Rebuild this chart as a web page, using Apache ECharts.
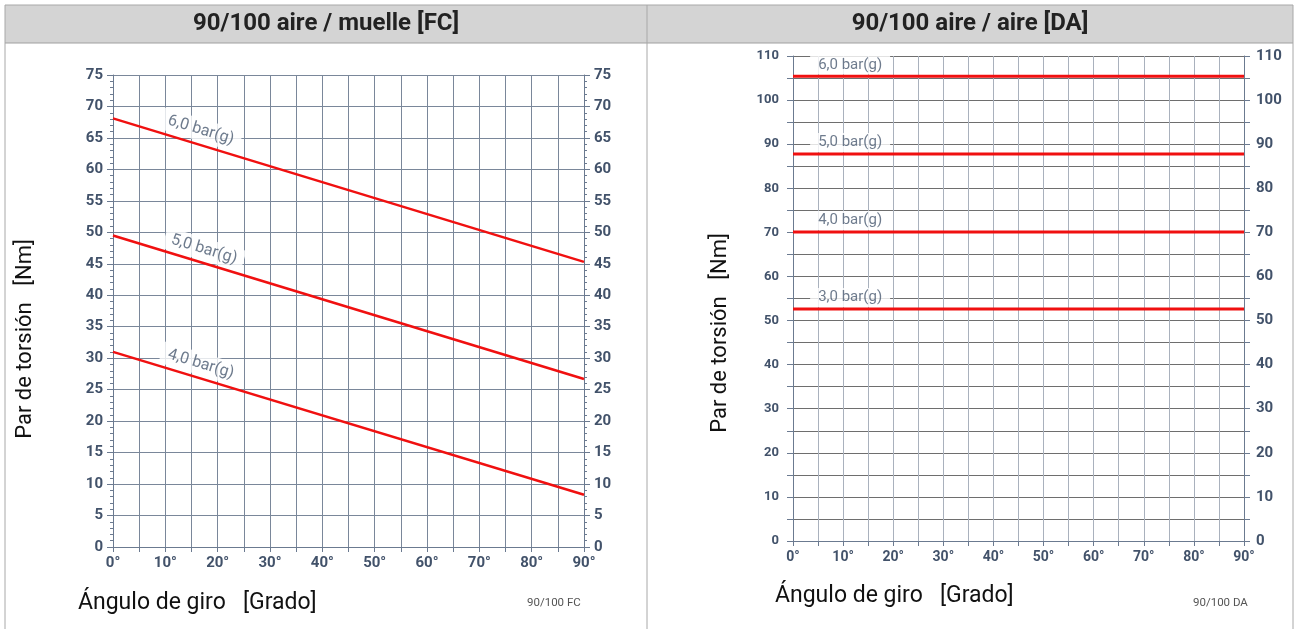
<!DOCTYPE html>
<html><head><meta charset="utf-8">
<script src="https://cdn.jsdelivr.net/npm/echarts@6/dist/echarts.min.js"></script>
<style>html,body{margin:0;padding:0;background:#fff}#c{width:1298px;height:629px}</style>
</head><body><div id="c"></div>
<script>
// ---- data ----
const angles = [0, 90];
const fcLabels = ['6,0 bar(g)', '5,0 bar(g)', '4,0 bar(g)'];
const fc6 = [68.1, 45.3];
const fc5 = [49.5, 26.7];
const fc4 = [31.0, 8.3];
const daLabels = ['6,0 bar(g)', '5,0 bar(g)', '4,0 bar(g)', '3,0 bar(g)'];
const da6 = [105.4, 105.4];
const da5 = [87.8, 87.8];
const da4 = [70.1, 70.1];
const da3 = [52.6, 52.6];
const titles = ['90/100 aire / muelle [FC]', '90/100 aire / aire [DA]'];
const xName = 'Ángulo de giro   [Grado]';
const yName = 'Par de torsión   [Nm]';
const refs = ['90/100 FC', '90/100 DA'];

// ---- styling ----
const FONT = 'Roboto';
const TICKC = '#42526a';
const RED = '#f01010';
const chart = echarts.init(document.getElementById('c'), null, {renderer: 'canvas'});

function pts(xs, ys) { return xs.map((x, i) => [x, ys[i]]); }
function lineSeries(xi, yi, data, w) {
  return {type: 'line', xAxisIndex: xi, yAxisIndex: yi, data: data, symbol: 'none',
    lineStyle: {color: RED, width: w}, silent: true, z: 5};
}
// label anchor positions (layout) derived from lines
const fcSeries = [fc6, fc5, fc4];
const fcLabelX = [16.8, 17.4, 16.8];
const fcLabelOff = [2.4, 2.2, 2.3];
const slopeDeg = -17;
const fcLabelData = fcSeries.map((s, i) => {
  const x = fcLabelX[i];
  const y = s[0] + (s[1] - s[0]) * x / 90 + fcLabelOff[i];
  return {value: [x, y], label: {formatter: fcLabels[i], rotate: slopeDeg}};
});
const daSeries = [da6, da5, da4, da3];
const daLabelData = daSeries.map((s, i) => ({value: [11.4, s[0] + 2.6], label: {formatter: daLabels[i]}}));

const xFmt = v => (v % 10 === 0 ? v + '°' : '');

function xAxis(gi, fs, splitColor) {
  return {type: 'value', gridIndex: gi, min: 0, max: 90, interval: 5,
    axisLine: {show: true, lineStyle: {color: '#6b7a90', width: 1}},
    axisTick: {show: true, length: 5, lineStyle: {color: '#6b7a90'}},
    axisLabel: {formatter: xFmt, color: TICKC, fontWeight: 'bold', fontSize: fs, fontFamily: FONT, margin: 9},
    splitLine: {show: true, lineStyle: {color: splitColor, width: 1}}};
}
function yAxis(gi, max, pos, fs, margin, everyTen, split, minor, splitColor) {
  return {type: 'value', gridIndex: gi, min: 0, max: max, interval: 5, position: pos,
    axisLine: {show: true, lineStyle: {color: '#6b7a90', width: 1}},
    axisTick: {show: true, length: 6, lineStyle: {color: '#6b7a90'}},
    minorTick: {show: minor, splitNumber: 5, length: 3, lineStyle: {color: '#6b7a90'}},
    axisLabel: {formatter: v => (everyTen && v % 10 !== 0 ? '' : String(v)), color: TICKC,
      fontWeight: 'bold', fontSize: fs, fontFamily: FONT, margin: margin},
    splitLine: {show: split, lineStyle: {color: splitColor, width: 1}}};
}

const labelStyleFC = {show: true, position: 'inside', color: '#4a5a70', fontSize: 16, fontFamily: FONT,
  backgroundColor: '#fff', padding: [3, 7]};
const labelStyleDA = {show: true, position: 'inside', color: '#4a5a70', fontSize: 15, fontFamily: FONT,
  backgroundColor: '#fff', padding: [2, 8]};

const line = (x1, y1, x2, y2, c) => ({type: 'line', shape: {x1, y1, x2, y2}, style: {stroke: c || '#a8a8a8', lineWidth: 1}, silent: true});
const txt = (x, y, t, fs, extra) => ({type: 'text', x, y, style: Object.assign({text: t, fontSize: fs, fontFamily: FONT, fill: '#111', align: 'center', verticalAlign: 'middle'}, extra || {})});

const option = {
  animation: false,
  backgroundColor: '#fff',
  grid: [
    {left: 113, top: 75, width: 471, height: 472},
    {left: 793, top: 56, width: 451, height: 485}
  ],
  xAxis: [xAxis(0, 15, '#7a879a'), xAxis(1, 14, '#a9b1bd')],
  yAxis: [
    yAxis(0, 75, 'left', 15, 10, false, true, true, '#7a879a'),
    yAxis(0, 75, 'right', 15, 10, false, false, true, '#7a879a'),
    yAxis(1, 110, 'left', 13, 14, true, true, false, '#6e6e6e'),
    yAxis(1, 110, 'right', 15, 12, true, false, false, '#6e6e6e')
  ],
  series: [
    lineSeries(0, 0, pts(angles, fc6), 2.5),
    lineSeries(0, 0, pts(angles, fc5), 2.5),
    lineSeries(0, 0, pts(angles, fc4), 2.5),
    {type: 'scatter', xAxisIndex: 0, yAxisIndex: 0, symbolSize: 0.1, itemStyle: {color: 'transparent'},
      label: labelStyleFC, data: fcLabelData, silent: true, z: 4},
    lineSeries(1, 2, pts(angles, da6), 3),
    lineSeries(1, 2, pts(angles, da5), 3),
    lineSeries(1, 2, pts(angles, da4), 3),
    lineSeries(1, 2, pts(angles, da3), 3),
    {type: 'scatter', xAxisIndex: 1, yAxisIndex: 2, symbolSize: 0.1, itemStyle: {color: 'transparent'},
      label: labelStyleDA, data: daLabelData, silent: true, z: 4}
  ],
  graphic: [
    {type: 'rect', shape: {x: 5, y: 5, width: 1288, height: 38}, style: {fill: '#d4d4d4'}, silent: true},
    line(5, 5, 1293, 5), line(5, 43, 1293, 43, '#a0a0a0'),
    line(5, 5, 5, 629), line(647, 5, 647, 629), line(1293, 5, 1293, 629),
    txt(326, 24, titles[0], 24, {fontWeight: 'bold', fill: '#222'}),
    txt(970, 24, titles[1], 24, {fontWeight: 'bold', fill: '#222'}),
    Object.assign(txt(25, 339, yName, 22), {rotation: Math.PI / 2}),
    Object.assign(txt(720, 333, yName, 22), {rotation: Math.PI / 2}),
    txt(78, 603, xName, 23, {align: 'left'}),
    txt(775, 596, xName, 23, {align: 'left'}),
    txt(527, 603, refs[0], 11.5, {align: 'left', fill: '#555'}),
    txt(1193, 603, refs[1], 11.5, {align: 'left', fill: '#555'})
  ]
};
chart.setOption(option);
</script></body></html>
